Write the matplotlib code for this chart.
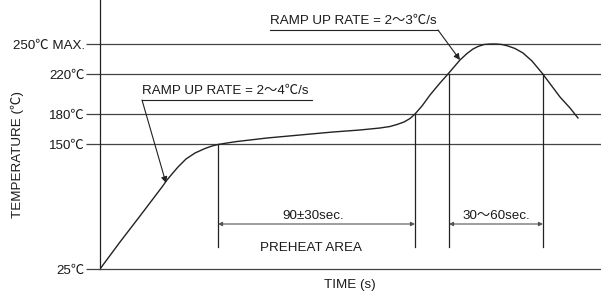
import matplotlib.pyplot as plt
import numpy as np

plt.rcParams['font.family'] = ['Liberation Sans', 'Noto Sans CJK JP', 'DejaVu Sans']

# temperature levels (°C)
levels = [25, 150, 180, 220, 250]
level_labels = ["25℃", "150℃", "180℃", "220℃", "250℃ MAX."]

# reflow profile (time in arbitrary units)
t = [0, 20, 40, 62, 67, 72, 78, 86, 95, 105, 112, 118, 127, 137, 150, 167, 200, 233, 260, 280,
     290, 297, 304, 310, 315, 322, 330, 340, 348, 354, 360, 367, 373, 378, 384, 390,
     396, 402, 408, 415, 423, 432, 442, 451, 460, 470, 478]
temp = [25, 52, 78, 107, 114, 120, 127, 135, 141, 145.5, 148, 149.5, 151, 152.5, 154, 156, 159, 162, 164, 166,
        167.5, 169.5, 172, 175.5, 180, 188, 199, 211, 220, 227, 234, 240.5, 245, 247.5, 249.5, 250,
        250, 249.5, 248, 245.5, 241, 233, 221, 209, 197, 186, 176]

# marker lines: (time, top temp)
marks_t = [118, 315, 349, 443]
marks_top = [150, 180, 220, 220]
mark_bottom = 47

fig = plt.figure(figsize=(6.01, 2.97), dpi=100)
ax = fig.add_axes([100 / 601, 28 / 297, 501 / 601, 269 / 297])
ax.set_xlim(0, 501)
ax.set_ylim(25, 294)

line_col = "#444444"
text_col = "#1a1a1a"
for lv in levels[1:]:
    ax.axhline(lv, color=line_col, lw=0.9)

ax.plot(t, temp, color="#222222", lw=1.0)

for mt, mtop in zip(marks_t, marks_top):
    ax.plot([mt, mt], [mark_bottom, mtop], color="#222222", lw=0.9)

for s in ["top", "right"]:
    ax.spines[s].set_visible(False)
ax.spines["left"].set_color("#222222")
ax.spines["bottom"].set_color(line_col)
ax.spines["left"].set_linewidth(0.9)
ax.spines["bottom"].set_linewidth(0.9)

ax.set_xticks([])
ax.set_yticks(levels)
ax.set_yticklabels(level_labels, fontsize=9.6, color=text_col)
ax.tick_params(axis="y", length=10, width=0.9, color=line_col, pad=1)

# dimension arrows
arr = dict(arrowstyle="<|-|>", color="#555555", lw=0.8, mutation_scale=6,
           shrinkA=0, shrinkB=0)
ax.annotate("", xy=(marks_t[0], 70), xytext=(marks_t[1], 70), arrowprops=arr)
ax.annotate("", xy=(marks_t[2], 70), xytext=(marks_t[3], 70), arrowprops=arr)
ax.text(213, 72, "90±30sec.", ha="center", va="bottom", fontsize=9.6, color=text_col)
ax.text(396, 72, "30～60sec.", ha="center", va="bottom", fontsize=9.6, color=text_col)
ax.text(211, 46, "PREHEAT AREA", ha="center", va="center", fontsize=9.6, color=text_col)

# ramp-up callouts
lead = dict(arrowstyle="-|>", color="#222222", lw=0.8, mutation_scale=9,
            shrinkA=0, shrinkB=0)
ax.annotate("", xy=(66, 111), xytext=(42, 194), arrowprops=lead)
ax.plot([42, 212], [194, 194], color="#222222", lw=0.8)
ax.text(42, 197, "RAMP UP RATE = 2～4℃/s", ha="left", va="bottom", fontsize=9.6, color=text_col)

ax.annotate("", xy=(360, 234), xytext=(338, 264), arrowprops=lead)
ax.plot([170, 338], [264, 264], color="#222222", lw=0.8)
ax.text(170, 267, "RAMP UP RATE = 2～3℃/s", ha="left", va="bottom", fontsize=9.6, color=text_col)

fig.text(350 / 601, 1 - 285 / 297, "TIME (s)", ha="center", va="center", fontsize=9.6, color=text_col)
fig.text(17 / 601, 1 - 155 / 297, "TEMPERATURE (℃)", ha="center", va="center",
         rotation=90, fontsize=9.6, color=text_col)

fig.savefig("out.png", dpi=100)
